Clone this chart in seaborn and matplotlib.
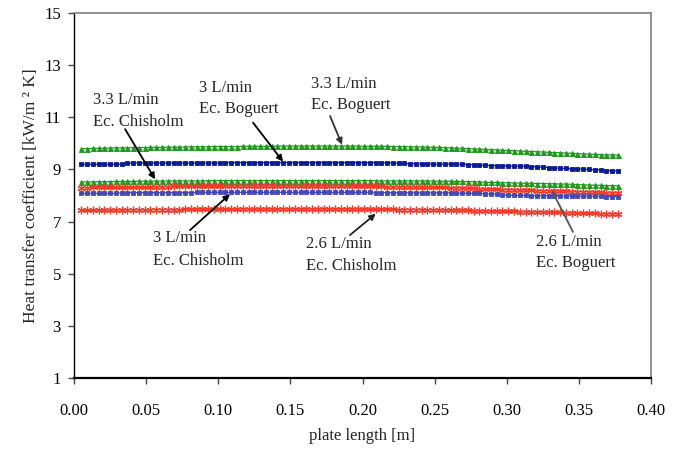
import numpy as np
import pandas as pd
import matplotlib
matplotlib.use("Agg")
import matplotlib.pyplot as plt
import seaborn as sns

# Positions along the plate where the local coefficient was evaluated [m]
plate_x = np.round(0.005 + 0.004 * np.arange(94), 3)

# Local heat transfer coefficient [kW/m2 K]
h_33_boguert = [
    9.80, 9.80, 9.81, 9.81, 9.82, 9.82, 9.83, 9.83, 9.83, 9.84,
    9.84, 9.84, 9.85, 9.85, 9.85, 9.86, 9.86, 9.86, 9.86, 9.87,
    9.87, 9.87, 9.87, 9.88, 9.88, 9.88, 9.88, 9.88, 9.89, 9.89,
    9.89, 9.89, 9.89, 9.89, 9.90, 9.90, 9.90, 9.90, 9.90, 9.90,
    9.90, 9.90, 9.90, 9.90, 9.90, 9.90, 9.90, 9.90, 9.90, 9.89,
    9.89, 9.89, 9.89, 9.89, 9.88, 9.88, 9.88, 9.87, 9.87, 9.86,
    9.86, 9.85, 9.85, 9.84, 9.83, 9.82, 9.81, 9.80, 9.79, 9.78,
    9.77, 9.76, 9.75, 9.74, 9.73, 9.72, 9.71, 9.70, 9.69, 9.68,
    9.67, 9.66, 9.65, 9.64, 9.63, 9.62, 9.61, 9.60, 9.59, 9.58,
    9.57, 9.56, 9.56, 9.55,
]
h_3_boguert = [
    9.20, 9.20, 9.20, 9.20, 9.20, 9.20, 9.20, 9.21, 9.24, 9.25,
    9.25, 9.25, 9.25, 9.25, 9.25, 9.25, 9.25, 9.25, 9.25, 9.25,
    9.25, 9.25, 9.25, 9.25, 9.25, 9.26, 9.26, 9.26, 9.26, 9.26,
    9.26, 9.26, 9.26, 9.26, 9.26, 9.26, 9.26, 9.26, 9.26, 9.26,
    9.26, 9.26, 9.26, 9.26, 9.26, 9.26, 9.26, 9.26, 9.26, 9.26,
    9.26, 9.26, 9.26, 9.25, 9.25, 9.24, 9.23, 9.22, 9.22, 9.21,
    9.21, 9.21, 9.21, 9.21, 9.21, 9.21, 9.20, 9.19, 9.18, 9.17,
    9.16, 9.15, 9.14, 9.14, 9.13, 9.13, 9.13, 9.12, 9.11, 9.10,
    9.09, 9.07, 9.06, 9.05, 9.04, 9.03, 9.02, 9.01, 9.00, 8.99,
    8.98, 8.96, 8.95, 8.94,
]
h_33_chisholm = [
    8.52, 8.52, 8.52, 8.53, 8.53, 8.53, 8.54, 8.54, 8.54, 8.54,
    8.55, 8.55, 8.55, 8.55, 8.55, 8.56, 8.56, 8.56, 8.56, 8.56,
    8.56, 8.56, 8.57, 8.57, 8.57, 8.57, 8.57, 8.57, 8.57, 8.57,
    8.57, 8.57, 8.57, 8.57, 8.57, 8.57, 8.57, 8.57, 8.57, 8.57,
    8.57, 8.57, 8.57, 8.57, 8.57, 8.57, 8.57, 8.57, 8.57, 8.57,
    8.57, 8.57, 8.56, 8.56, 8.56, 8.56, 8.56, 8.56, 8.56, 8.56,
    8.56, 8.55, 8.55, 8.55, 8.55, 8.54, 8.54, 8.53, 8.53, 8.52,
    8.51, 8.50, 8.50, 8.49, 8.49, 8.48, 8.48, 8.47, 8.47, 8.46,
    8.46, 8.45, 8.45, 8.44, 8.44, 8.43, 8.42, 8.41, 8.40, 8.40,
    8.39, 8.38, 8.38, 8.37,
]
h_3_chisholm = [
    8.30, 8.30, 8.31, 8.31, 8.31, 8.31, 8.31, 8.31, 8.31, 8.32,
    8.32, 8.32, 8.32, 8.33, 8.34, 8.34, 8.35, 8.35, 8.35, 8.35,
    8.35, 8.35, 8.35, 8.35, 8.35, 8.36, 8.36, 8.36, 8.36, 8.36,
    8.36, 8.36, 8.36, 8.36, 8.36, 8.36, 8.36, 8.36, 8.36, 8.36,
    8.36, 8.36, 8.36, 8.36, 8.36, 8.36, 8.36, 8.35, 8.35, 8.35,
    8.35, 8.35, 8.35, 8.34, 8.34, 8.34, 8.34, 8.33, 8.33, 8.33,
    8.32, 8.32, 8.31, 8.31, 8.30, 8.30, 8.29, 8.28, 8.27, 8.26,
    8.25, 8.24, 8.24, 8.23, 8.22, 8.22, 8.21, 8.20, 8.20, 8.19,
    8.19, 8.18, 8.17, 8.17, 8.16, 8.15, 8.15, 8.14, 8.13, 8.13,
    8.12, 8.11, 8.11, 8.10,
]
h_26_boguert = [
    8.08, 8.08, 8.08, 8.08, 8.08, 8.08, 8.08, 8.10, 8.11, 8.11,
    8.11, 8.11, 8.11, 8.11, 8.11, 8.11, 8.11, 8.11, 8.11, 8.11,
    8.12, 8.12, 8.12, 8.12, 8.12, 8.12, 8.12, 8.12, 8.12, 8.12,
    8.12, 8.12, 8.12, 8.12, 8.12, 8.12, 8.12, 8.12, 8.12, 8.12,
    8.12, 8.12, 8.12, 8.12, 8.12, 8.12, 8.12, 8.12, 8.12, 8.12,
    8.12, 8.11, 8.11, 8.11, 8.10, 8.10, 8.10, 8.10, 8.10, 8.10,
    8.10, 8.10, 8.10, 8.10, 8.10, 8.09, 8.09, 8.09, 8.08, 8.08,
    8.07, 8.06, 8.05, 8.03, 8.01, 8.00, 8.00, 8.00, 7.99, 7.99,
    7.99, 7.99, 7.99, 7.98, 7.98, 7.98, 7.98, 7.97, 7.97, 7.97,
    7.97, 7.96, 7.96, 7.96,
]
h_26_chisholm = [
    7.43, 7.43, 7.43, 7.44, 7.44, 7.44, 7.44, 7.45, 7.45, 7.45,
    7.45, 7.45, 7.46, 7.46, 7.46, 7.46, 7.46, 7.46, 7.47, 7.47,
    7.47, 7.47, 7.47, 7.47, 7.47, 7.47, 7.47, 7.47, 7.48, 7.48,
    7.48, 7.48, 7.48, 7.48, 7.48, 7.48, 7.48, 7.48, 7.48, 7.48,
    7.48, 7.48, 7.48, 7.48, 7.48, 7.48, 7.48, 7.48, 7.48, 7.47,
    7.47, 7.47, 7.47, 7.47, 7.47, 7.46, 7.46, 7.46, 7.46, 7.46,
    7.45, 7.45, 7.45, 7.44, 7.44, 7.44, 7.43, 7.43, 7.42, 7.42,
    7.41, 7.41, 7.40, 7.40, 7.39, 7.39, 7.38, 7.38, 7.37, 7.37,
    7.36, 7.36, 7.35, 7.35, 7.34, 7.33, 7.33, 7.32, 7.32, 7.31,
    7.30, 7.30, 7.29, 7.29,
]

x_ticks = [0.00, 0.05, 0.10, 0.15, 0.20, 0.25, 0.30, 0.35, 0.40]
y_ticks = [1, 3, 5, 7, 9, 11, 13, 15]

# Callouts: (two text lines, text anchor, arrow start, arrow tip, arrow colour)
callouts = [
    (("3.3 L/min", "Ec. Chisholm"), (0.0134, 11.66, 10.83), (0.0354, 10.55), (0.0562, 8.62), "black"),
    (("3 L/min", "Ec. Boguert"), (0.0869, 12.12, 11.31), (0.1241, 10.80), (0.1449, 9.30), "black"),
    (("3.3 L/min", "Ec. Boguert"), (0.1641, 12.28, 11.48), (0.1775, 11.05), (0.1858, 9.95), "#333333"),
    (("3 L/min", "Ec. Chisholm"), (0.0550, 6.36, 5.48), (0.0804, 6.67), (0.1081, 8.05), "black"),
    (("2.6 L/min", "Ec. Chisholm"), (0.1608, 6.12, 5.30), (0.1913, 6.48), (0.2092, 7.30), "#222222"),
    (("2.6 L/min", "Ec. Boguert"), (0.3203, 6.22, 5.39), (0.3459, 6.60), (0.3312, 8.20), "#555555"),
]

sns.set_style("ticks")
plt.rcParams["font.family"] = ["Liberation Serif", "DejaVu Serif"]
plt.rcParams["font.size"] = 12

fig = plt.figure(figsize=(6.81, 4.49), dpi=100)
ax = fig.add_axes([0.1087, 0.1588, 0.8473, 0.8116])

series = [
    (h_33_boguert, "#1f9a1f", "^", 3.6, 0.7),
    (h_3_boguert, "#0a1a94", "s", 3.4, 0.6),
    (h_33_chisholm, "#1f9a1f", "^", 3.6, 0.7),
    (h_3_chisholm, "#ff3a28", (6, 2, 0), 5.5, 0.9),
    (h_26_boguert, "#4448b4", "s", 3.4, 0.6),
    (h_26_chisholm, "#ff3a28", (6, 2, 0), 5.5, 0.9),
]
for values, color, marker, msize, mew in series:
    df = pd.DataFrame({"x": plate_x, "h": values})
    sns.lineplot(data=df, x="x", y="h", ax=ax, color=color, marker=marker,
                 markersize=msize, markeredgecolor=color, markerfacecolor=color,
                 markeredgewidth=mew, linewidth=0.9, legend=False)

for (line1, line2), (tx, ty1, ty2), start, tip, acol in callouts:
    ax.annotate("", xy=tip, xytext=start,
                arrowprops=dict(arrowstyle="-|>", color=acol, lw=1.3,
                                mutation_scale=9, shrinkA=0, shrinkB=0))
    ax.text(tx, ty1, line1, ha="left", va="center", fontsize=12)
    ax.text(tx, ty2, line2, ha="left", va="center", fontsize=12)

ax.set_xlim(0, 0.40)
ax.set_ylim(1, 15)
ax.set_xticks(x_ticks)
ax.set_xticklabels([f"{t:.2f}" for t in x_ticks])
ax.set_yticks(y_ticks)
ax.set_yticklabels([str(t) for t in y_ticks])
ax.tick_params(axis="both", direction="out", length=4.5, width=1.0,
               color="#444444", labelsize=12, labelcolor="black")
ax.tick_params(axis="x", pad=14)
ax.tick_params(axis="y", pad=5)

ax.set_xlabel("plate length [m]", fontsize=12, labelpad=6.5)
ax.set_ylabel("Heat transfer coefficient [kW/m ² K]", fontsize=12.5, labelpad=4)

ax.spines["left"].set_color("black")
ax.spines["left"].set_linewidth(1.0)
ax.spines["bottom"].set_color("black")
ax.spines["bottom"].set_linewidth(1.6)
for side in ("top", "right"):
    ax.spines[side].set_visible(True)
    ax.spines[side].set_color("#7f7f7f")
    ax.spines[side].set_linewidth(1.2)

fig.savefig("out.png", dpi=100)
